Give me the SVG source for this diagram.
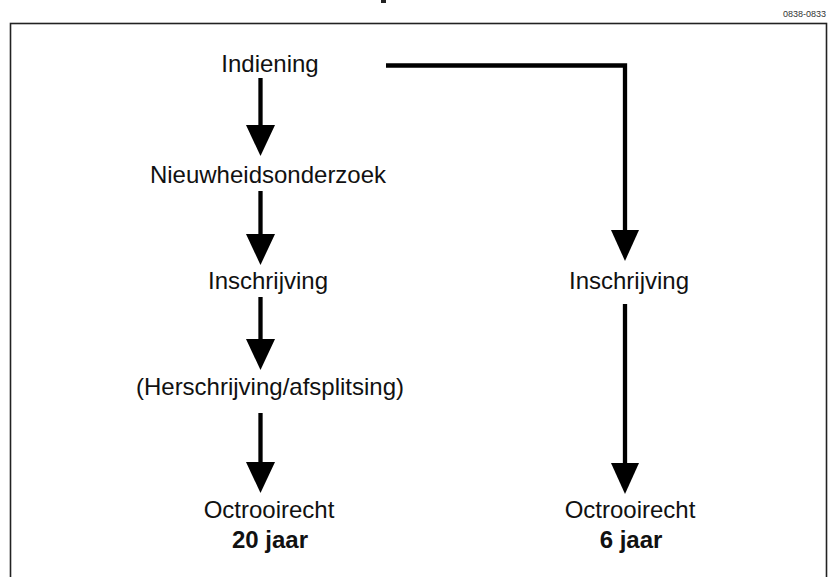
<svg xmlns="http://www.w3.org/2000/svg" width="828" height="577" viewBox="0 0 828 577">
<style>
.t{font-family:"Liberation Sans",Arial,sans-serif;font-size:24px;fill:#111;text-anchor:middle}
.b{font-weight:bold}
.ln{stroke:#000;stroke-width:4.3;fill:none}
.hd{fill:#000}
</style>
<rect x="0" y="0" width="828" height="577" fill="#fff"/>
<rect x="381" y="0" width="5" height="3" fill="#222"/>
<text x="826" y="17" style="font-family:'Liberation Sans',Arial,sans-serif;font-size:9px;fill:#333;text-anchor:end">0838-0833</text>
<rect x="10.5" y="23.5" width="816" height="600" fill="none" stroke="#222" stroke-width="1.6"/>
<g id="connectors">
<line class="ln" x1="260.5" y1="78" x2="260.5" y2="127"/>
<polygon class="hd" points="246,125 275,125 260.5,156"/>
<line class="ln" x1="260.5" y1="191" x2="260.5" y2="236"/>
<polygon class="hd" points="246,234 275,234 260.5,265"/>
<line class="ln" x1="260.5" y1="297" x2="260.5" y2="341"/>
<polygon class="hd" points="246,339 275,339 260.5,370"/>
<line class="ln" x1="260.5" y1="413" x2="260.5" y2="464"/>
<polygon class="hd" points="246,462 275,462 260.5,493"/>
<polyline class="ln" points="386,65.5 625,65.5 625,232"/>
<polygon class="hd" points="611,230 639,230 625,261"/>
<line class="ln" x1="625" y1="304" x2="625" y2="465"/>
<polygon class="hd" points="611,463 639,463 625,494"/>
</g>
<g id="n-indiening"><text class="t" x="270" y="72">Indiening</text></g>
<g id="n-nieuwheid"><text class="t" x="268" y="183">Nieuwheidsonderzoek</text></g>
<g id="n-inschrijving-l"><text class="t" x="268" y="289">Inschrijving</text></g>
<g id="n-herschrijving"><text class="t" x="270" y="395">(Herschrijving/afsplitsing)</text></g>
<g id="n-octrooi-l"><text class="t" x="269" y="518">Octrooirecht</text><text class="t b" x="270" y="548">20 jaar</text></g>
<g id="n-inschrijving-r"><text class="t" x="629" y="289">Inschrijving</text></g>
<g id="n-octrooi-r"><text class="t" x="630" y="518">Octrooirecht</text><text class="t b" x="631" y="548">6 jaar</text></g>
</svg>
